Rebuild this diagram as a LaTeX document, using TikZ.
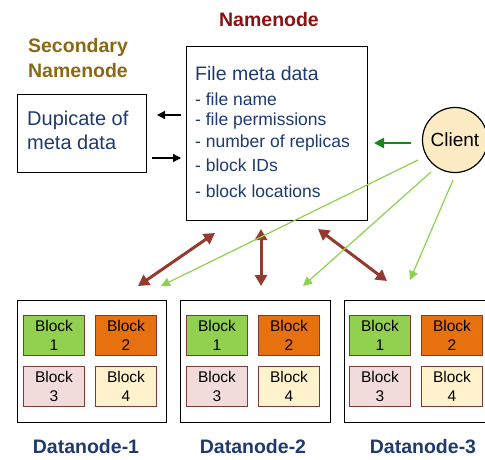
\documentclass[tikz,border=0pt]{standalone}
\usepackage{fontspec}
\setmainfont{Liberation Sans}
\usetikzlibrary{arrows.meta}
\definecolor{navytxt}{HTML}{1F3A6E}
\definecolor{nnred}{HTML}{8B1212}
\definecolor{secgold}{HTML}{8B6914}
\definecolor{bgreen}{HTML}{92D050}
\definecolor{borange}{HTML}{E8710F}
\definecolor{bpink}{HTML}{F2DCDB}
\definecolor{byellow}{HTML}{FFF2CC}
\definecolor{bborder}{HTML}{7B3B36}
\definecolor{brownarr}{HTML}{943B30}
\definecolor{lgreen}{HTML}{8ED14F}
\definecolor{dgreen}{HTML}{14861A}
\definecolor{clientfill}{HTML}{FDEBC3}
\begin{document}
\begin{tikzpicture}[x=1pt,y=-1pt,
  box/.style={draw=black,line width=1.3pt,fill=white},
  blk/.style={draw=bborder,line width=1pt,minimum width=61pt,minimum height=40pt,inner sep=0pt,align=center,font=\fontsize{15.5}{19}\selectfont},
  item/.style={anchor=west,inner sep=0pt,text=navytxt,font=\fontsize{17.5}{18}\selectfont},
  dnlabel/.style={text=navytxt,inner sep=0pt,font=\fontsize{19.5}{20}\selectfont\bfseries},
  darr/.style={{Triangle[length=11pt,width=12pt]}-{Triangle[length=11pt,width=12pt]},draw=brownarr,line width=3pt},
  garr/.style={-{Triangle[length=9pt,width=9pt]},draw=lgreen,line width=1.2pt},
  karr/.style={-{Triangle[length=8pt,width=8pt]},draw=black,line width=1.3pt}]
\clip (0,0) rectangle (485,459);
\fill[white] (0,0) rectangle (485,459);
% titles
\node[text=nnred,font=\fontsize{19.5}{21}\selectfont\bfseries] (nntitle) at (269,20) {Namenode};
\node[text=secgold,font=\fontsize{19.5}{25}\selectfont\bfseries,align=center] (sectitle) at (78,58) {Secondary\\Namenode};
% secondary box
\node[box,minimum width=129pt,minimum height=78pt,anchor=north west] (sec) at (17,94) {};
\node[anchor=north west,inner sep=0pt,text=navytxt,font=\fontsize{20}{24}\selectfont,align=left] (sectext) at (27,111) {Dupicate of\\meta data};
% namenode box
\node[box,minimum width=181pt,minimum height=174pt,anchor=north west] (nn) at (186,46) {};
\node[item,font=\fontsize{19.5}{20}\selectfont] (fmd) at (195,74) {File meta data};
\node[item] (i1) at (195,99) {- file name};
\node[item] (i2) at (195,121) {- file permissions};
\node[item] (i3) at (195,143) {- number of replicas};
\node[item] (i4) at (195,165) {- block IDs};
\node[item] (i5) at (195,191) {- block locations};
% arrows between secondary and namenode
\coordinate (a1s) at (181,115);
\coordinate (a1e) at (157,115);
\coordinate (a2s) at (152,158);
\coordinate (a2e) at (181,158);
\draw[karr] (a1s) -- (a1e);
\draw[karr] (a2s) -- (a2e);
% client
\node[circle,draw=black,line width=1.2pt,fill=clientfill,minimum size=65pt,inner sep=0pt,font=\fontsize{19}{20}\selectfont] (client) at (455,140) {Client};
\coordinate (gs) at (411,143);
\coordinate (ge) at (374,143);
\draw[-{Triangle[length=10pt,width=10pt]},draw=dgreen,line width=2.2pt] (gs) -- (ge);
% datanodes
\node[box,minimum width=149pt,minimum height=122pt,anchor=north west] (dn1) at (17,300) {};
\node[box,minimum width=150pt,minimum height=122pt,anchor=north west] (dn2) at (180,300) {};
\node[box,minimum width=150pt,minimum height=122pt,anchor=north west] (dn3) at (344,300) {};
\foreach \d/\x in {1/23,2/186,3/349}{
  \node[blk,fill=bgreen,anchor=north west] (b\d a) at (\x,315) {Block\\1};
  \node[blk,fill=borange,anchor=north west] (b\d b) at (\x+72,315) {Block\\2};
  \node[blk,fill=bpink,anchor=north west] (b\d c) at (\x,366) {Block\\3};
  \node[blk,fill=byellow,anchor=north west] (b\d d) at (\x+72,366) {Block\\4};
}
\node[dnlabel] (l1) at (86,447) {Datanode-1};
\node[dnlabel] (l2) at (253,447) {Datanode-2};
\node[dnlabel] (l3) at (423,447) {Datanode-3};
% brown double arrows
\coordinate (d1a) at (215,233);
\coordinate (d1b) at (138,286);
\coordinate (d2a) at (261,229);
\coordinate (d2b) at (261,286);
\coordinate (d3a) at (318,229);
\coordinate (d3b) at (387,281);
\draw[darr] (d1a) -- (d1b);
\draw[darr] (d2a) -- (d2b);
\draw[darr] (d3a) -- (d3b);
% light green client lines
\coordinate (c1s) at (418,160);
\coordinate (c1e) at (161,286);
\coordinate (c2s) at (431,172);
\coordinate (c2e) at (303,286);
\coordinate (c3s) at (453,180);
\coordinate (c3e) at (410,280);
\draw[garr] (c1s) -- (c1e);
\draw[garr] (c2s) -- (c2e);
\draw[garr] (c3s) -- (c3e);
\end{tikzpicture}
\end{document}
